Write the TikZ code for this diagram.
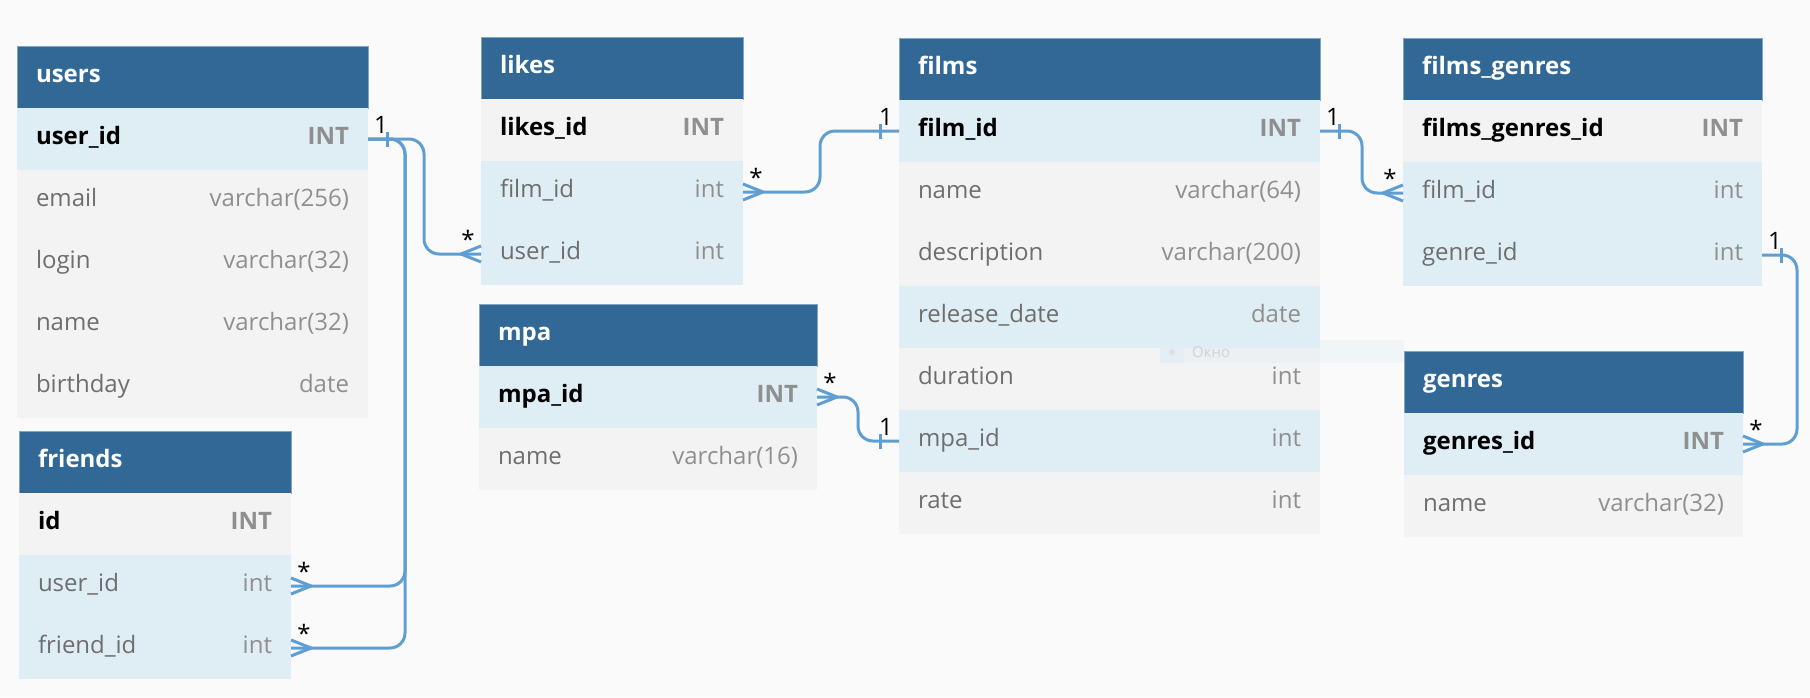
\documentclass[tikz,border=0pt]{standalone}
\usepackage{fontspec}
\setmainfont{Open Sans}
\usetikzlibrary{positioning}
\definecolor{canvas}{HTML}{FAFAFA}
\definecolor{headblue}{HTML}{316896}
\definecolor{headline}{HTML}{7FA5C7}
\definecolor{rowblue}{HTML}{DFEDF5}
\definecolor{rowgray}{HTML}{F3F3F3}
\definecolor{namegray}{HTML}{6E6E6E}
\definecolor{typegray}{HTML}{8F8F8F}
\definecolor{linkblue}{HTML}{5F9ED2}
\newcommand{\erfont}{\fontsize{24}{29}\selectfont}
\newcommand{\ftype}[1]{\hfill\textcolor{typegray}{#1}}
\tikzset{
  cell/.style   = {rectangle, minimum height=62pt, inner xsep=19pt, inner ysep=0pt,
                   outer sep=0pt, fill=rowgray, text=namegray, align=left,
                   font=\erfont, execute at begin node=\strut},
  linked/.style = {fill=rowblue},
  pkey/.style   = {text=black, font=\erfont\bfseries},
  head/.style   = {cell, anchor=north west, fill=headblue, draw=headline,
                   line width=0.8pt, text=white, font=\erfont\bfseries},
  link/.style   = {draw=linkblue, line width=3pt, rounded corners=15pt},
  card/.style   = {anchor=base, inner sep=0pt, font=\erfont},
  one/.pic      = {\draw[link] (#1*19,-7.5) -- (#1*19,7.5);
                   \node[card] at (#1*13,-6) {1};},
  many/.pic     = {\draw[link, sharp corners, line join=round] (0,-8) -- (#1*20,0) -- (0,8);
                   \node[card] at (#1*13,-6) {*};}
}

\begin{document}
\begin{tikzpicture}[x=1pt, y=-1pt]
  \useasboundingbox (0,0) rectangle (1810,697);
  \fill[canvas] (0,0) rectangle (1810,697);

  % users
  \begin{scope}[text width=313pt]
    \node[head] (users) at (17,46) {users};
    \node[cell, pkey, linked] (users-uid) [below=0pt of users] {user\_id\ftype{INT}};
    \node[cell] (users-email) [below=0pt of users-uid] {email\ftype{varchar(256)}};
    \node[cell] (users-login) [below=0pt of users-email] {login\ftype{varchar(32)}};
    \node[cell] (users-name) [below=0pt of users-login] {name\ftype{varchar(32)}};
    \node[cell] (users-bday) [below=0pt of users-name] {birthday\ftype{date}};
  \end{scope}

  % friends
  \begin{scope}[text width=234pt]
    \node[head] (friends) at (19,431) {friends};
    \node[cell, pkey] (friends-id) [below=0pt of friends] {id\ftype{INT}};
    \node[cell, linked] (friends-uid) [below=0pt of friends-id] {user\_id\ftype{int}};
    \node[cell, linked] (friends-fid) [below=0pt of friends-uid] {friend\_id\ftype{int}};
  \end{scope}

  % likes
  \begin{scope}[text width=224pt]
    \node[head] (likes) at (481,37) {likes};
    \node[cell, pkey] (likes-id) [below=0pt of likes] {likes\_id\ftype{INT}};
    \node[cell, linked] (likes-fid) [below=0pt of likes-id] {film\_id\ftype{int}};
    \node[cell, linked] (likes-uid) [below=0pt of likes-fid] {user\_id\ftype{int}};
  \end{scope}

  % mpa
  \begin{scope}[text width=300pt]
    \node[head] (mpa) at (479,304) {mpa};
    \node[cell, pkey, linked] (mpa-mid) [below=0pt of mpa] {mpa\_id\ftype{INT}};
    \node[cell] (mpa-name) [below=0pt of mpa-mid] {name\ftype{varchar(16)}};
  \end{scope}

  % films
  \begin{scope}[text width=383pt]
    \node[head] (films) at (899,38) {films};
    \node[cell, pkey, linked] (films-fid) [below=0pt of films] {film\_id\ftype{INT}};
    \node[cell] (films-name) [below=0pt of films-fid] {name\ftype{varchar(64)}};
    \node[cell] (films-desc) [below=0pt of films-name] {description\ftype{varchar(200)}};
    \node[cell, linked] (films-rdate) [below=0pt of films-desc] {release\_date\ftype{date}};
    \node[cell] (films-dur) [below=0pt of films-rdate] {duration\ftype{int}};
    \node[cell, linked] (films-mpa) [below=0pt of films-dur] {mpa\_id\ftype{int}};
    \node[cell] (films-rate) [below=0pt of films-mpa] {rate\ftype{int}};
  \end{scope}

  % films_genres
  \begin{scope}[text width=321pt]
    \node[head] (fg) at (1403,38) {films\_genres};
    \node[cell, pkey] (fg-id) [below=0pt of fg] {films\_genres\_id\ftype{INT}};
    \node[cell, linked] (fg-fid) [below=0pt of fg-id] {film\_id\ftype{int}};
    \node[cell, linked] (fg-gid) [below=0pt of fg-fid] {genre\_id\ftype{int}};
  \end{scope}

  % genres
  \begin{scope}[text width=301pt]
    \node[head] (genres) at (1404,351) {genres};
    \node[cell, pkey, linked] (genres-gid) [below=0pt of genres] {genres\_id\ftype{INT}};
    \node[cell] (genres-name) [below=0pt of genres-gid] {name\ftype{varchar(32)}};
  \end{scope}

  % relations
  \draw[link] (users-uid.east) -- ++(56,0) |- (likes-uid.west);
  \draw[link] (users-uid.east) -- ++(37,0) |- (friends-uid.east);
  \draw[link] (users-uid.east) -- ++(37,0) |- (friends-fid.east);
  \draw[link] (likes-fid.east) -- ++(77,0) |- (films-fid.west);
  \draw[link] (mpa-mid.east) -- ++(41,0) |- (films-mpa.west);
  \draw[link] (films-fid.east) -- ++(42,0) |- (fg-fid.west);
  \draw[link] (fg-gid.east) -- ++(35,0) |- (genres-gid.east);

  \pic at (users-uid.east) {one=1};
  \pic at (likes-uid.west) {many=-1};
  \pic at (friends-uid.east) {many=1};
  \pic at (friends-fid.east) {many=1};
  \pic at (likes-fid.east) {many=1};
  \pic at (films-fid.west) {one=-1};
  \pic at (mpa-mid.east) {many=1};
  \pic at (films-mpa.west) {one=-1};
  \pic at (films-fid.east) {one=1};
  \pic at (fg-fid.west) {many=-1};
  \pic at (fg-gid.east) {one=1};
  \pic at (genres-gid.east) {many=1};

  % window tooltip
  \fill[rowblue, fill opacity=0.35] (1160,340) rectangle (1404,363);
  \fill[rowblue, fill opacity=0.5] (1160,340) rectangle (1184,363);
  \fill[gray!25] (1172,352) circle (3);
  \node[anchor=west, inner sep=0pt, text=gray!35, font=\fontsize{15}{18}\selectfont] (okno) at (1192,352) {Окно};
\end{tikzpicture}
\end{document}
